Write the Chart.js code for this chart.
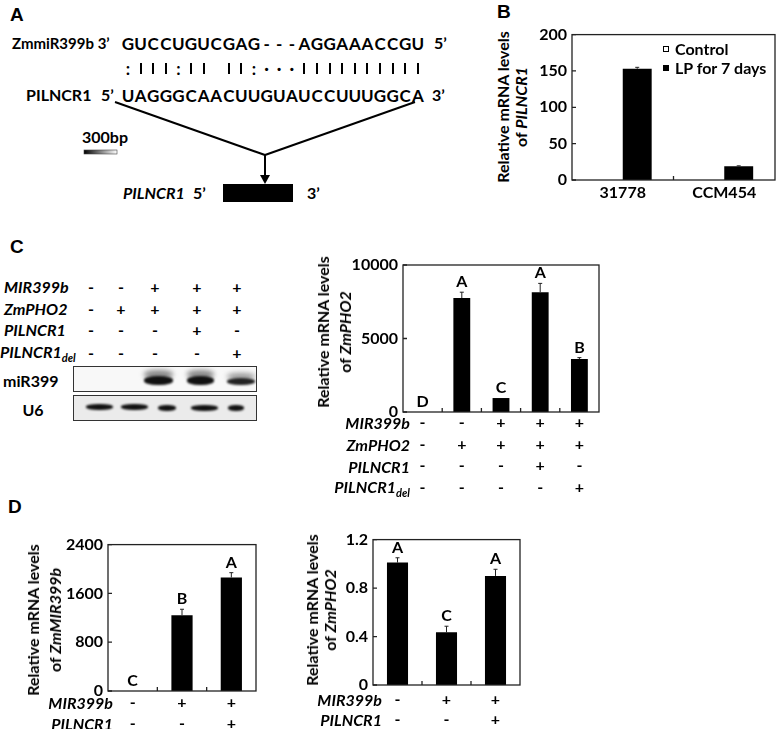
<!DOCTYPE html>
<html>
<head>
<meta charset="utf-8">
<script src="https://cdn.jsdelivr.net/npm/chart.js@4.4.0/dist/chart.umd.min.js"></script>
<style>
body { margin: 0; background: #fff; }
#fig { position: relative; width: 776px; height: 729px; overflow: hidden; font-family: Lato, sans-serif; font-weight: bold; color: #000; }
.t { position: absolute; white-space: nowrap; line-height: 1; }
.ax { position: absolute; white-space: nowrap; text-align: center; font-size: 16px; transform: translate(-50%, -50%) rotate(-90deg); }
.bar { position: absolute; width: 2px; height: 11px; background: #000; }
canvas { position: absolute; }
.box { position: absolute; border: 1px solid #333; box-sizing: border-box; overflow: hidden; }
.band { position: absolute; background: #111; border-radius: 45%; filter: blur(1.2px); }
sub { font-size: 11px; vertical-align: -4px; }
</style>
</head>
<body>
<div id="fig">
  <svg width="776" height="729" style="position:absolute;left:0;top:0">
    <defs>
      <linearGradient id="sb" x1="0" x2="1" y1="0" y2="0">
        <stop offset="0" stop-color="#000"/><stop offset="1" stop-color="#fff"/>
      </linearGradient>
    </defs>
    <line x1="115" y1="102" x2="265" y2="155" stroke="#000" stroke-width="2"/>
    <line x1="415" y1="102" x2="265" y2="155" stroke="#000" stroke-width="2"/>
    <line x1="265" y1="155" x2="265" y2="178" stroke="#000" stroke-width="2"/>
    <polygon points="260,175 270,175 265,184" fill="#000"/>
    <rect x="223" y="184" width="70" height="18" fill="#000"/>
    <rect x="84" y="150" width="33" height="4" fill="url(#sb)" stroke="#444" stroke-width="0.6"/>
  </svg>

  <canvas id="cB" width="246" height="200" style="left:530px;top:20px"></canvas>
  <canvas id="cC" width="260" height="260" style="left:345px;top:250px"></canvas>
  <canvas id="cD1" width="202" height="199" style="left:58px;top:530px"></canvas>
  <canvas id="cD2" width="202" height="204" style="left:323px;top:525px"></canvas>

  <div class="box" style="left:73px;top:366px;width:184px;height:26px;background:#f8f8f8">
    <div class="band" style="left:70px;top:3px;width:29px;height:9px;background:#888;filter:blur(2.5px)"></div>
    <div class="band" style="left:70px;top:9px;width:29px;height:9px"></div>
    <div class="band" style="left:113px;top:3px;width:27px;height:9px;background:#888;filter:blur(2.5px)"></div>
    <div class="band" style="left:113px;top:9px;width:27px;height:9px"></div>
    <div class="band" style="left:153px;top:6px;width:28px;height:7px;background:#999;filter:blur(2.5px)"></div>
    <div class="band" style="left:153px;top:11px;width:28px;height:7px;background:#222"></div>
  </div>
  <div class="box" style="left:73px;top:395px;width:184px;height:26px;background:#ebebeb">
    <div class="band" style="left:12px;top:8px;width:27px;height:6px"></div>
    <div class="band" style="left:47px;top:8px;width:27px;height:6px"></div>
    <div class="band" style="left:84px;top:9px;width:18px;height:6px"></div>
    <div class="band" style="left:117px;top:9px;width:27px;height:6px"></div>
    <div class="band" style="left:154px;top:9px;width:16px;height:6px"></div>
  </div>
</div>

<script>
Chart.defaults.font.family = 'Lato';
Chart.defaults.font.weight = 'bold';
Chart.defaults.font.size = 16;
Chart.defaults.color = '#000';

// panel B
const catsB    = ['31778', 'CCM454'];
const controlB = [0, 0];
const lpB      = [153, 19];
const lpErrB   = [2, 0.5];
const ticksB   = [0, 50, 100, 150, 200];

// panel C
const condRowsC = ['MIR399b', 'ZmPHO2', 'PILNCR1', 'PILNCR1<sub>del</sub>'];
const condC = [
    ['-', '-', '-', '-'],
    ['-', '+', '-', '-'],
    ['+', '+', '-', '-'],
    ['+', '+', '+', '-'],
    ['+', '+', '-', '+'],
];
const pho2C    = [0, 7750, 950, 8150, 3600];
const pho2ErrC = [0, 400, 0, 600, 100];
const lettersC = ['D', 'A', 'C', 'A', 'B'];
const ticksC   = [0, 5000, 10000];

// panel D
const condRowsD = ['MIR399b', 'PILNCR1'];
const condD = [
    ['-', '-'],
    ['+', '-'],
    ['+', '+'],
];
const mirD      = [0, 1240, 1860];
const mirErrD   = [0, 100, 80];
const lettersD1 = ['C', 'B', 'A'];
const ticksD1   = [0, 800, 1600, 2400];
const pho2D     = [1.01, 0.435, 0.9];
const pho2ErrD  = [0.04, 0.05, 0.055];
const lettersD2 = ['A', 'C', 'A'];
const ticksD2   = [0, 0.4, 0.8, 1.2];

const fig = document.getElementById('fig');

function txt(html, x, y, size, opt = {}) {
    const el = document.createElement('div');
    el.className = 't';
    el.innerHTML = html;
    el.style.left = x + 'px';
    el.style.top = y + 'px';
    el.style.fontSize = size + 'px';
    if (opt.italic) el.style.fontStyle = 'italic';
    if (opt.family) el.style.fontFamily = opt.family;
    const dx = opt.align === 'right' ? '-100%' : opt.align === 'center' ? '-50%' : '0';
    el.style.transform = `translate(${dx}, -50%)`;
    fig.appendChild(el);
    return el;
}

function axTitle(line2, cx, cy, lh) {
    const el = document.createElement('div');
    el.className = 'ax';
    el.style.left = cx + 'px';
    el.style.top = cy + 'px';
    el.style.lineHeight = lh + 'px';
    el.innerHTML = 'Relative mRNA levels<br>of <i>' + line2 + '</i>';
    fig.appendChild(el);
}

// panel letters
const PF = 'Liberation Sans, Arial, sans-serif';
txt('A', 10, 14, 19, { family: PF });
txt('B', 497, 11, 19, { family: PF });
txt('C', 10, 246, 19, { family: PF });
txt('D', 8, 506, 19, { family: PF });

// panel A text
const seqTop = 'GUCCUGUCGAG---AGGAAACCGU';
const pairs  = ':|||:|| ||:···||||||||||';
const seqBot = 'UAGGGCAACUUGUAUCCUUUGGCA';
txt('ZmmiR399b 3’', 12, 43, 15);
txt('5’', 434, 43, 16);
txt('PILNCR1', 26, 95, 16);
txt('5’', 101, 95, 16);
txt('3’', 432, 95, 16);
for (let i = 0; i < 24; i++) {
    const cx = 128 + i * 12.6;
    txt(seqTop[i], cx, 43, 17, { align: 'center' });
    if (pairs[i] === '|') {
        const b = document.createElement('div');
        b.className = 'bar';
        b.style.left = (cx - 1) + 'px';
        b.style.top = '63px';
        fig.appendChild(b);
    } else if (pairs[i] !== ' ') {
        txt(pairs[i], cx, 68, 17, { align: 'center' });
    }
    txt(seqBot[i], cx, 95, 17, { align: 'center' });
}
txt('300bp', 82, 137, 16);
txt('PILNCR1', 123, 193, 16, { italic: true });
txt('5’', 193, 193, 16);
txt('3’', 307, 193, 16);

// panel B legend
fig.insertAdjacentHTML('beforeend',
    '<div style="position:absolute;left:663px;top:46px;width:6px;height:6px;border:1px solid #000;box-sizing:border-box"></div>' +
    '<div style="position:absolute;left:663px;top:65px;width:6px;height:6px;background:#000"></div>');
txt('Control', 675, 49, 16);
txt('LP for 7 days', 675, 68, 16);

// panel C blot conditions
const blotX = [91, 121, 155, 197, 237];
const blotY = [287, 309, 330, 353];
condRowsC.forEach((r, ri) => {
    txt(r, ri === 3 ? 0 : 4, blotY[ri], 16, { italic: true });
    condC.forEach((c, ci) => txt(c[ri], blotX[ci], blotY[ri], 16, { align: 'center' }));
});
txt('miR399', 3, 381, 16);
txt('U6', 33, 410, 16, { align: 'center' });

// condition row labels next to chart axes
const rowsC = [423, 445, 467, 488];
condRowsC.forEach((r, i) => txt(r, 410, rowsC[i], 16, { italic: true, align: 'right' }));
condRowsD.forEach((r, i) => txt(r, 113, [703, 724][i], 16, { italic: true, align: 'right' }));
condRowsD.forEach((r, i) => txt(r, 382, [700, 720][i], 16, { italic: true, align: 'right' }));

axTitle('PILNCR1', 512, 107, 18);
axTitle('ZmPHO2', 334, 332, 22);
axTitle('ZmMIR399b', 44, 620, 22);
axTitle('ZmPHO2', 321, 610, 18);

// frame, error bars, letters, inner ticks
const marks = {
    id: 'marks',
    afterDatasetsDraw(chart) {
        const { ctx, chartArea: a, scales: { x, y } } = chart;
        ctx.save();
        ctx.strokeStyle = '#222';
        ctx.fillStyle = '#000';
        ctx.lineWidth = 1;
        chart.data.datasets.forEach((ds, di) => {
            if (!ds.err) return;
            chart.getDatasetMeta(di).data.forEach((bar, i) => {
                const y0 = y.getPixelForValue(ds.data[i]);
                const y1 = y.getPixelForValue(ds.data[i] + ds.err[i]);
                if (ds.err[i] > 0) {
                    ctx.beginPath();
                    ctx.moveTo(bar.x, y0); ctx.lineTo(bar.x, y1);
                    ctx.moveTo(bar.x - 2, y1); ctx.lineTo(bar.x + 2, y1);
                    ctx.stroke();
                }
                if (ds.letters) {
                    ctx.font = 'bold 16px Lato';
                    ctx.textAlign = 'center';
                    ctx.textBaseline = 'alphabetic';
                    ctx.fillText(ds.letters[i], bar.x, y1 - 5);
                }
            });
        });
        ctx.lineWidth = 1.3;
        ctx.strokeRect(a.left, a.top, a.width, a.height);
        ctx.beginPath();
        y.ticks.forEach(t => {
            const py = y.getPixelForValue(t.value);
            ctx.moveTo(a.left, py); ctx.lineTo(a.left + 4, py);
        });
        const n = chart.data.labels.length;
        for (let i = 1; i < n; i++) {
            const px = (x.getPixelForValue(i - 1) + x.getPixelForValue(i)) / 2;
            ctx.moveTo(px, a.bottom); ctx.lineTo(px, a.bottom - 4);
        }
        ctx.stroke();
        ctx.restore();
    }
};

function barChart(id, cfg) {
    return new Chart(document.getElementById(id), {
        type: 'bar',
        data: { labels: cfg.labels, datasets: cfg.datasets },
        options: {
            responsive: false,
            animation: false,
            layout: { padding: cfg.pad },
            plugins: { legend: { display: false }, tooltip: { enabled: false } },
            scales: {
                x: {
                    grid: { display: false, drawTicks: false },
                    border: { display: false },
                    ticks: {
                        padding: cfg.xPad,
                        maxRotation: 0,
                        autoSkip: false,
                        font: { size: 16, lineHeight: cfg.lineH ? cfg.lineH + 'px' : 1.2 }
                    },
                    afterFit: s => { s.height = cfg.xH; }
                },
                y: {
                    min: cfg.ticks[0],
                    max: cfg.ticks[cfg.ticks.length - 1],
                    grid: { display: false, drawTicks: false },
                    border: { display: false },
                    ticks: { padding: 5, callback: v => String(+Number(v).toFixed(1)) },
                    afterBuildTicks: s => { s.ticks = cfg.ticks.map(v => ({ value: v })); },
                    afterFit: s => { s.width = cfg.yW; }
                }
            }
        },
        plugins: [marks]
    });
}

barChart('cB', {
    labels: catsB,
    datasets: [
        { label: 'Control', data: controlB, backgroundColor: '#fff', borderWidth: 0,
          categoryPercentage: 0.57, barPercentage: 1 },
        { label: 'LP for 7 days', data: lpB, err: lpErrB, backgroundColor: '#000',
          categoryPercentage: 0.57, barPercentage: 1 }
    ],
    ticks: ticksB, pad: { left: 0, right: 1, top: 13, bottom: 0 },
    yW: 42, xH: 40, xPad: 3
});

barChart('cC', {
    labels: condC,
    datasets: [{ data: pho2C, err: pho2ErrC, letters: lettersC, backgroundColor: '#000',
                 categoryPercentage: 0.43, barPercentage: 1 }],
    ticks: ticksC, pad: { left: 0, right: 6, top: 15, bottom: 0 },
    yW: 58, xH: 98, xPad: 0, lineH: 21.7
});

barChart('cD1', {
    labels: condD,
    datasets: [{ data: mirD, err: mirErrD, letters: lettersD1, backgroundColor: '#000',
                 categoryPercentage: 0.43, barPercentage: 1 }],
    ticks: ticksD1, pad: { left: 0, right: 4, top: 14, bottom: 0 },
    yW: 50, xH: 38, xPad: 1, lineH: 21
});

barChart('cD2', {
    labels: condD,
    datasets: [{ data: pho2D, err: pho2ErrD, letters: lettersD2, backgroundColor: '#000',
                 categoryPercentage: 0.43, barPercentage: 1 }],
    ticks: ticksD2, pad: { left: 0, right: 5, top: 14, bottom: 0 },
    yW: 50, xH: 44, xPad: 5, lineH: 20
});
</script>
</body>
</html>
